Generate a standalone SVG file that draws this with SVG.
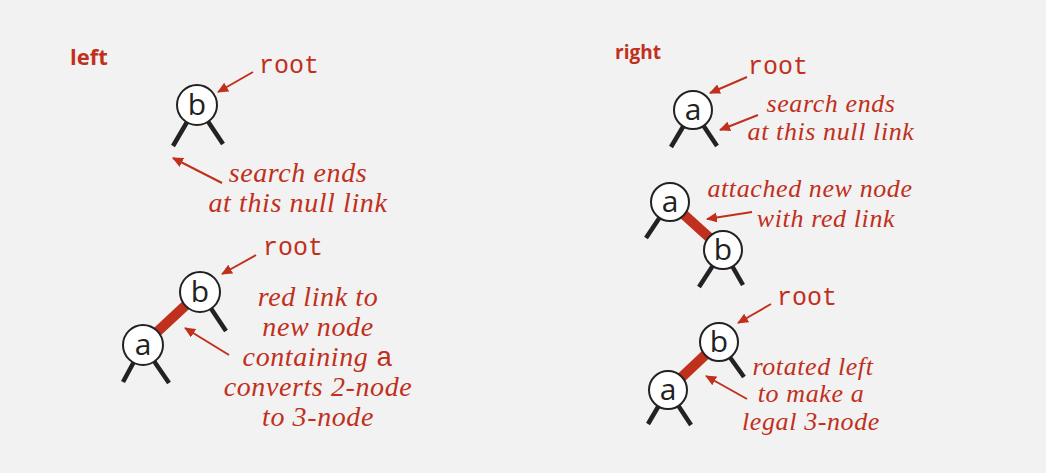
<svg xmlns="http://www.w3.org/2000/svg" width="1046" height="473" viewBox="0 0 1046 473">
<style>
.bg{fill:#f2f2f2}
.nc{fill:#fff;stroke:#222;stroke-width:2}
.nl{font-family:"Open Sans","Liberation Sans",sans-serif;font-size:30px;fill:#222;text-anchor:middle}
.lk{stroke:#222;stroke-width:4.5;fill:none}
.rl{stroke:#c0301c;stroke-width:10;fill:none}
.ar{stroke:#c0301c;stroke-width:2;fill:none;marker-end:url(#ah)}
.hd{font-family:"Open Sans","Liberation Sans",sans-serif;font-weight:bold;fill:#c0301c}
.mono{font-family:"Liberation Mono",monospace;font-size:25px;fill:#c0301c}
.it{font-family:"Liberation Serif",serif;font-style:italic;font-size:28px;letter-spacing:0.6px;fill:#c0301c;text-anchor:middle}
.it2{font-family:"Liberation Serif",serif;font-style:italic;font-size:26px;letter-spacing:0.6px;fill:#c0301c;text-anchor:middle}
.im{font-family:"Liberation Mono",monospace;font-style:normal}
</style>
<defs>
<marker id="ah" markerUnits="userSpaceOnUse" markerWidth="12" markerHeight="10" refX="10" refY="5" orient="auto">
<path d="M0,0 L11,5 L0,10 z" fill="#c0301c"/>
</marker>
</defs>
<rect class="bg" x="0" y="0" width="1046" height="473"/>
<text class="hd" x="70" y="65" font-size="22">left</text>
<text class="hd" x="615" y="59" font-size="19">right</text>
<g id="connectors">
<line class="lk" x1="197" y1="105" x2="173" y2="146"/>
<line class="lk" x1="197" y1="105" x2="223" y2="144"/>
<line class="rl" x1="200" y1="292" x2="143" y2="345"/>
<line class="lk" x1="200" y1="292" x2="226" y2="331"/>
<line class="lk" x1="143" y1="345" x2="123" y2="382"/>
<line class="lk" x1="143" y1="345" x2="169" y2="383"/>
<line class="lk" x1="693" y1="110" x2="671" y2="147"/>
<line class="lk" x1="693" y1="110" x2="717" y2="146"/>
<line class="rl" x1="670" y1="202" x2="723" y2="250"/>
<line class="lk" x1="670" y1="202" x2="646" y2="238"/>
<line class="lk" x1="723" y1="250" x2="699" y2="287"/>
<line class="lk" x1="723" y1="250" x2="743" y2="285"/>
<line class="rl" x1="719" y1="342" x2="668" y2="390"/>
<line class="lk" x1="719" y1="342" x2="744" y2="377"/>
<line class="lk" x1="668" y1="390" x2="648" y2="424"/>
<line class="lk" x1="668" y1="390" x2="691" y2="425"/>
<line class="ar" x1="253" y1="72" x2="218" y2="92"/>
<line class="ar" x1="222" y1="183" x2="173" y2="158"/>
<line class="ar" x1="256" y1="255" x2="222" y2="274"/>
<line class="ar" x1="229" y1="355" x2="185" y2="328"/>
<line class="ar" x1="747" y1="77" x2="710" y2="93"/>
<line class="ar" x1="758" y1="115" x2="720" y2="130"/>
<line class="ar" x1="752" y1="212" x2="707" y2="219"/>
<line class="ar" x1="771" y1="304" x2="738" y2="323"/>
<line class="ar" x1="747" y1="399" x2="706" y2="376"/>
</g>
<g id="node-left-b1"><circle class="nc" cx="197" cy="105" r="20"/><text class="nl" x="197" y="115">b</text></g>
<g id="node-left-b2"><circle class="nc" cx="200" cy="292" r="20"/><text class="nl" x="200" y="302">b</text></g>
<g id="node-left-a2"><circle class="nc" cx="143" cy="345" r="20"/><text class="nl" x="143" y="355">a</text></g>
<g id="node-right-a1"><circle class="nc" cx="693" cy="110" r="19"/><text class="nl" x="693" y="120">a</text></g>
<g id="node-right-a2"><circle class="nc" cx="670" cy="202" r="19"/><text class="nl" x="670" y="212">a</text></g>
<g id="node-right-b2"><circle class="nc" cx="723" cy="250" r="19"/><text class="nl" x="723" y="260">b</text></g>
<g id="node-right-b3"><circle class="nc" cx="719" cy="342" r="19"/><text class="nl" x="719" y="352">b</text></g>
<g id="node-right-a3"><circle class="nc" cx="668" cy="390" r="19"/><text class="nl" x="668" y="400">a</text></g>
<g id="labels">
<text class="mono" x="259" y="73">root</text>
<text class="it" x="298" y="182">search ends</text>
<text class="it" x="298" y="212">at this null link</text>
<text class="mono" x="263" y="255">root</text>
<text class="it" x="318" y="306">red link to</text>
<text class="it" x="318" y="336">new node</text>
<text class="it" x="318" y="366">containing <tspan class="im">a</tspan></text>
<text class="it" x="318" y="396">converts 2-node</text>
<text class="it" x="318" y="426">to 3-node</text>
<text class="mono" x="748" y="74">root</text>
<text class="it2" x="831" y="112">search ends</text>
<text class="it2" x="831" y="140">at this null link</text>
<text class="it2" x="810" y="197">attached new node</text>
<text class="it2" x="826" y="227">with red link</text>
<text class="mono" x="777" y="305">root</text>
<text class="it2" x="813" y="375">rotated left</text>
<text class="it2" x="811" y="402">to make a</text>
<text class="it2" x="811" y="430">legal 3-node</text>
</g>
</svg>
